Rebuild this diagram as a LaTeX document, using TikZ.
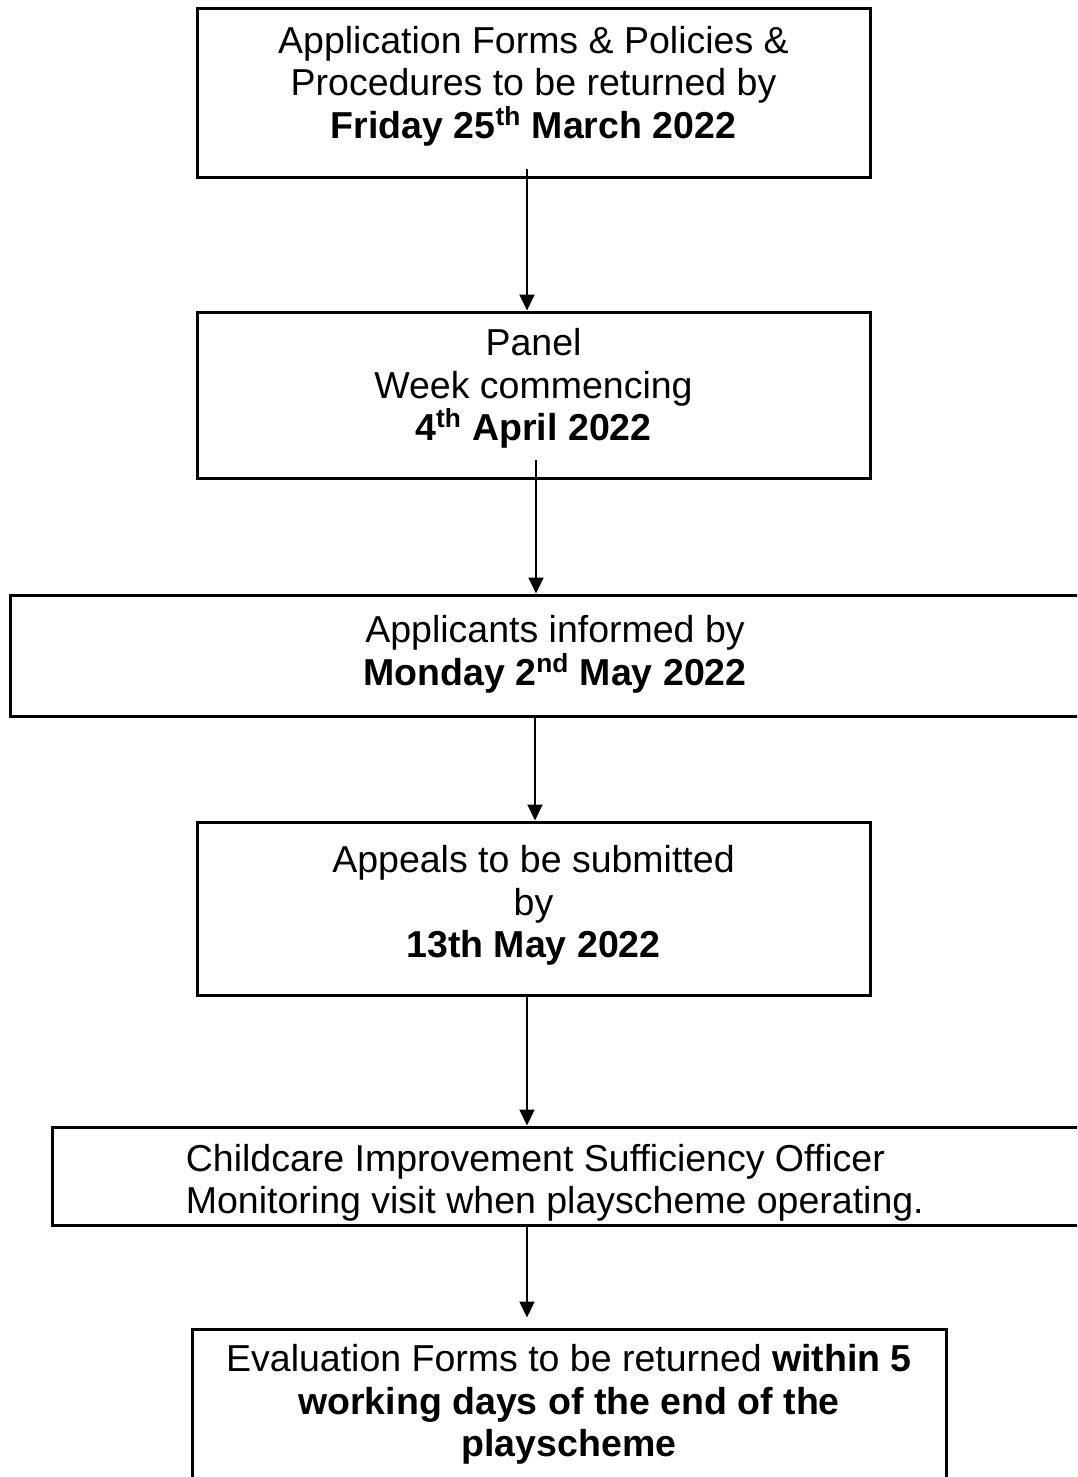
\documentclass[tikz,border=0pt]{standalone}
\usepackage{fontspec}
\setmainfont{Liberation Sans}
\usepackage{tikz}
\usetikzlibrary{
    arrows.meta,
    calc,
    positioning
}

\tikzset{
    stepbox/.style={draw, line width=1.5pt, inner sep=0pt},
    steptext/.style={align=center, inner sep=0pt, anchor=base,
        font=\fontsize{18.75pt}{21.25pt}\selectfont},
    flow/.style={line width=1pt, -{Triangle[length=8pt,width=7.5pt]}}
}

\begin{document}
\begin{tikzpicture}[x=1pt, y=-1pt]
                        \useasboundingbox (0, 0) rectangle (538.5, 738.5);
                        \clip (0, 0) rectangle (538.5, 738.5);

                        % frames
                        \node[stepbox, minimum width=336.5pt, minimum height=84pt] (b1) at (266.75, 46.5) {};
                        \node[stepbox, minimum width=336.5pt, minimum height=83pt] (b2) at (266.75, 197.5) {};
                        \node[stepbox, minimum width=545pt, minimum height=60.5pt] (b3) at (277.5, 327.75) {};
                        \node[stepbox, minimum width=336.5pt, minimum height=86.5pt] (b4) at (266.75, 454.25) {};
                        \node[stepbox, minimum width=524pt, minimum height=49pt] (b5) at (288, 588) {};
                        \node[stepbox, minimum width=377pt, minimum height=90pt] (b6) at (284.5, 709.5) {};

                        % texts (base = last line)
                        \node[steptext] (t1) at ($(b1.north)+(0, 65.5)$)
                            {Application Forms \& Policies \&\\Procedures to be returned by\\\textbf{Friday 25\textsuperscript{th} March 2022}};
                        \node[steptext] (t2) at ($(b2.north)+(0, 65)$)
                            {Panel\\Week commencing\\\textbf{4\textsuperscript{th} April 2022}};
                        \node[steptext] (t3) at ($(b3.north)+(0, 45.75)$)
                            {Applicants informed by\\\textbf{Monday 2\textsuperscript{nd} May 2022}};
                        \node[steptext] (t4) at ($(b4.north)+(0, 68.5)$)
                            {Appeals to be submitted\\by\\\textbf{13th May 2022}};
                        \node[steptext, align=left, anchor=base west] (t5) at ($(b5.north west)+(67.5, 44)$)
                            {Childcare Improvement Sufficiency Officer\\Monitoring visit when playscheme operating.};
                        \node[steptext] (t6) at ($(b6.north)+(0, 64.5)$)
                            {Evaluation Forms to be returned \textbf{within 5}\\\textbf{working days of the end of the}\\\textbf{playscheme}};

                        % connectors
                        \draw[flow] ($(b1.south)+(-3.25, -5)$) -- ($(b2.north)+(-3.25, 0)$);
                        \draw[flow] ($(b2.south)+(1.25, -10)$) -- ($(b3.north)+(-9.5, 0)$);
                        \draw[flow] ($(b3.south)+(-10, 0)$) -- ($(b4.north)+(0.75, 0)$);
                        \draw[flow] ($(b4.south)+(-3.25, 0)$) -- ($(b5.north)+(-24.5, 0)$);
                        \draw[flow] ($(b5.south)+(-24.5, 0)$) -- ($(b6.north)+(-21, -5)$);
                    \end{tikzpicture}
\end{document}
